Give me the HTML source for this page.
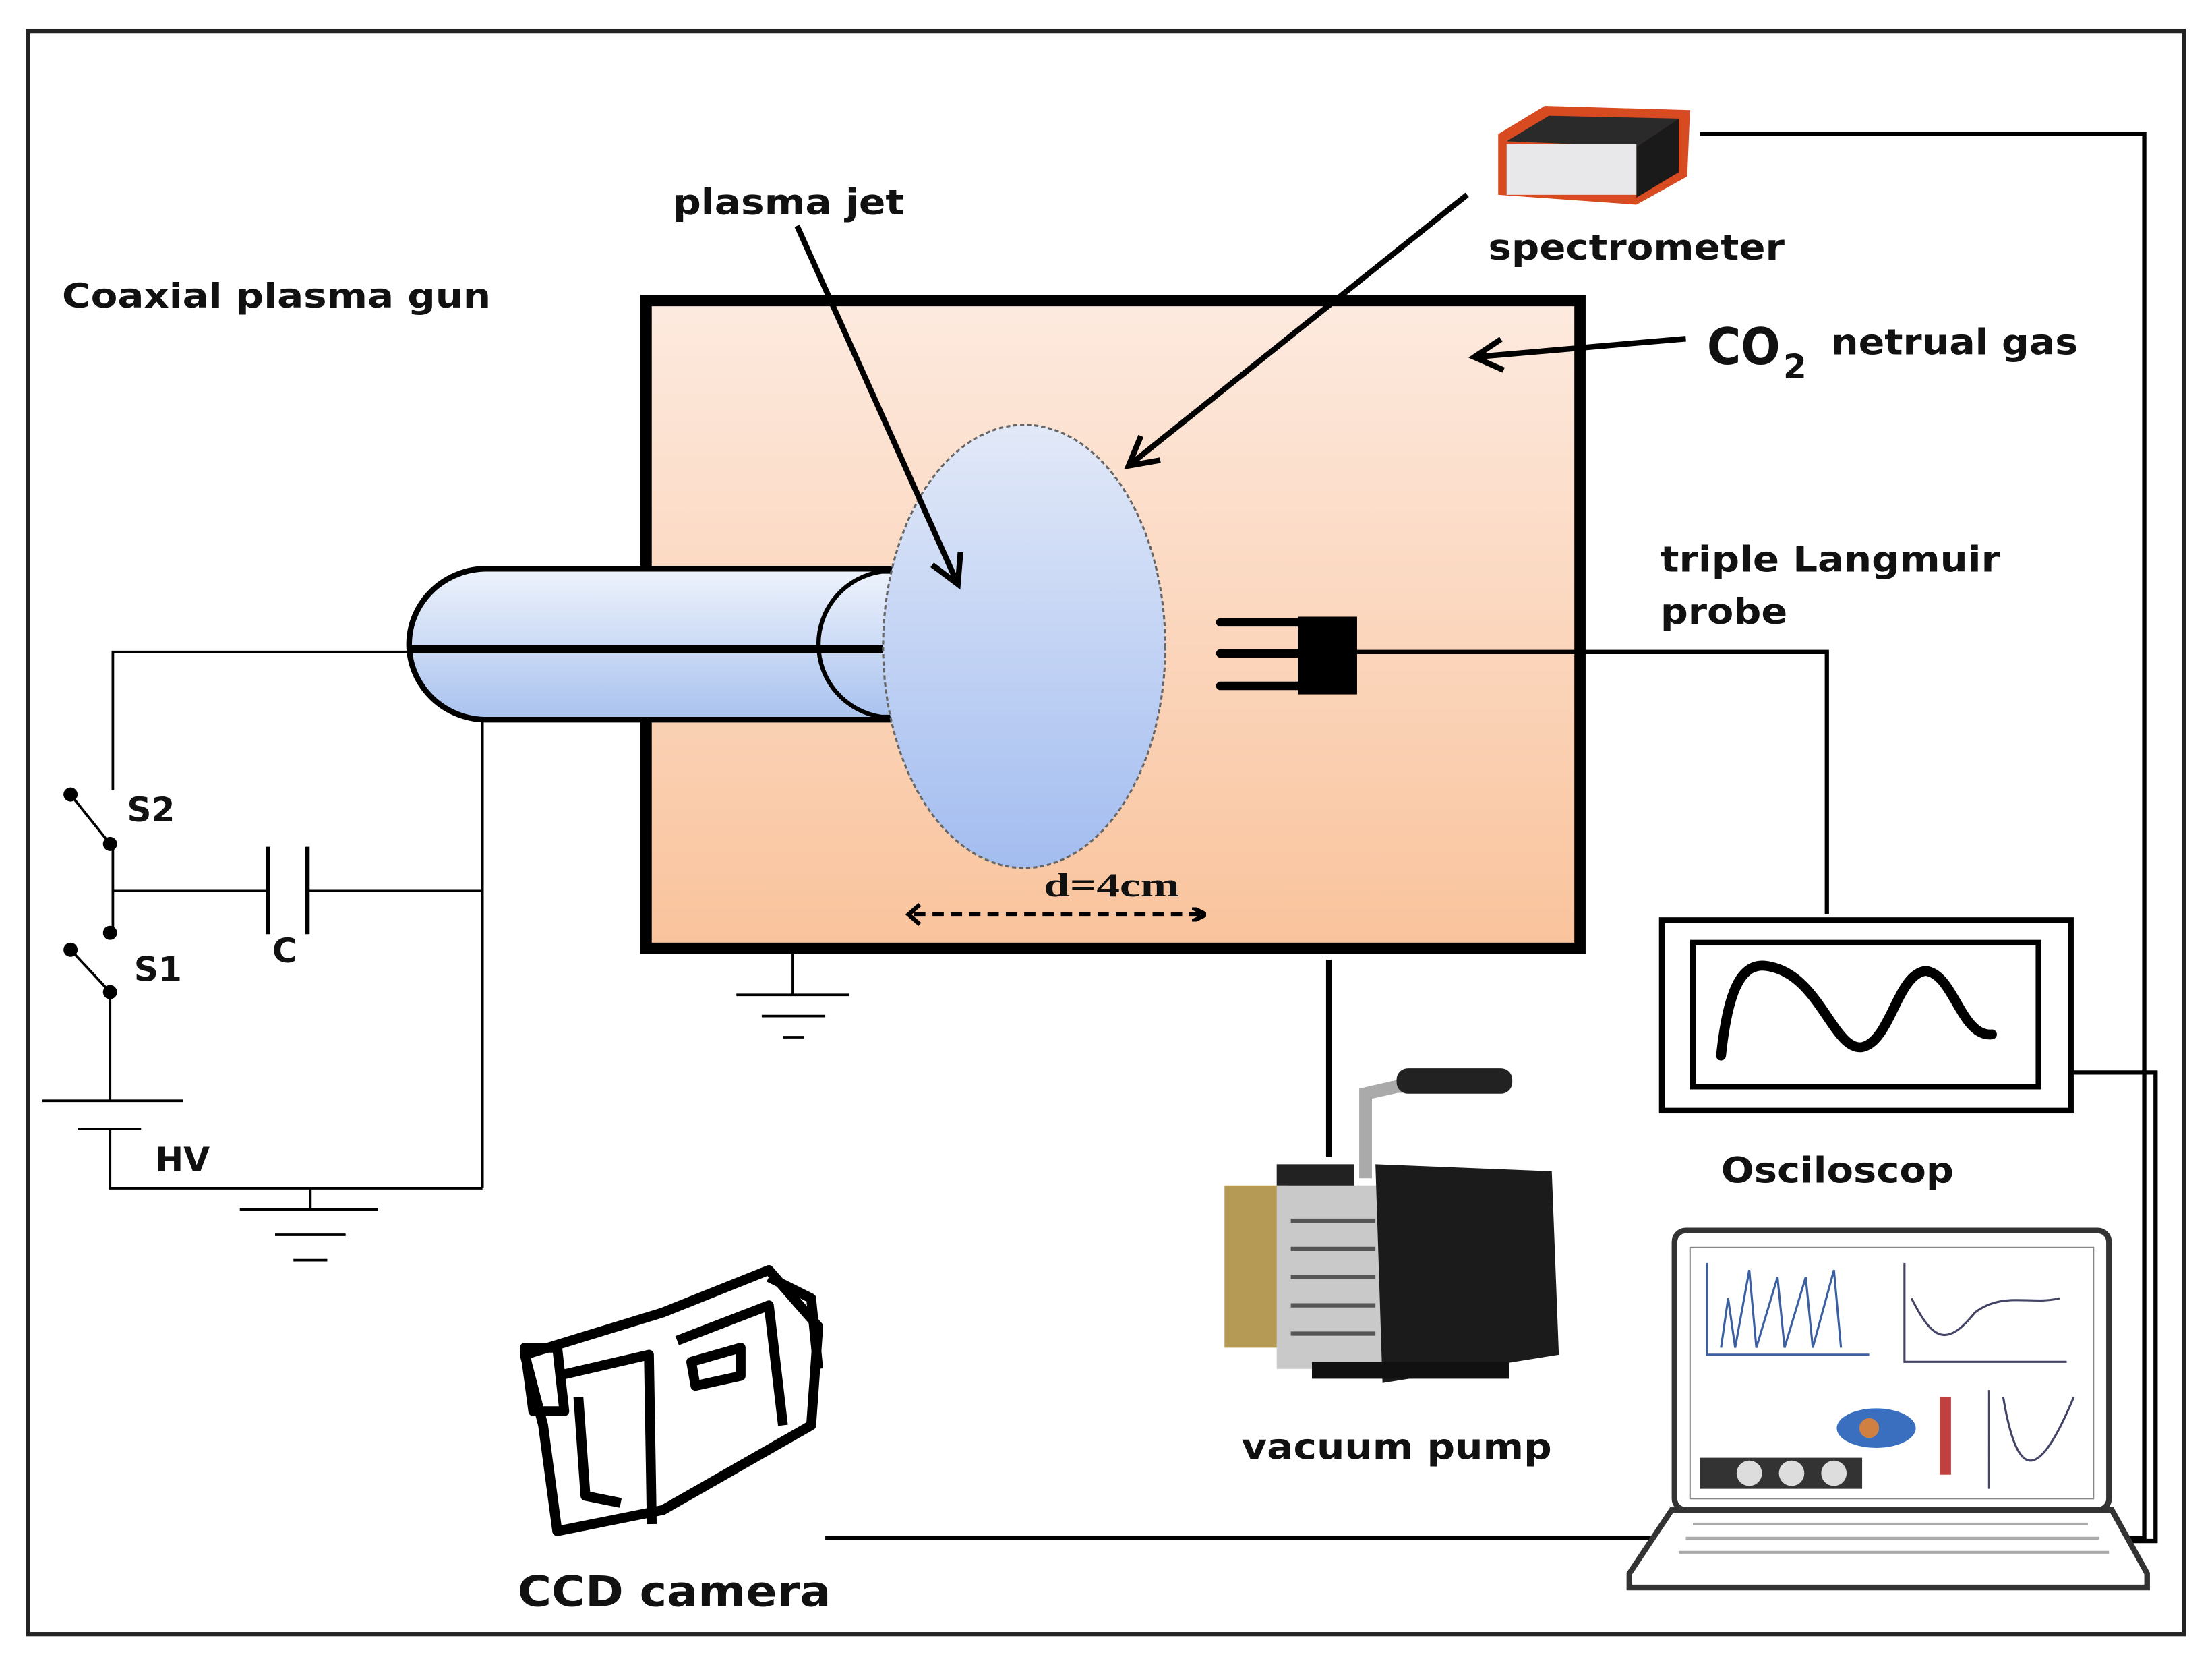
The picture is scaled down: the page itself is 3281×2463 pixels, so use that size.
<!DOCTYPE html>
<html><head><meta charset="utf-8"><style>
html,body{margin:0;padding:0;background:#fff;}
svg{display:block;}
text{font-family:"DejaVu Sans","Liberation Sans",sans-serif;font-weight:bold;fill:#111;}
</style></head><body>
<svg width="3281" height="2463" viewBox="0 0 1568 1177" xmlns="http://www.w3.org/2000/svg">
<defs>
<linearGradient id="ch" x1="0" y1="0" x2="0" y2="1"><stop offset="0" stop-color="#fdeadf"/><stop offset="1" stop-color="#f9c39c"/></linearGradient>
<linearGradient id="pl" x1="0" y1="0" x2="0" y2="1"><stop offset="0" stop-color="#e2e9f8"/><stop offset="1" stop-color="#a3bdf0"/></linearGradient>
<linearGradient id="gun" x1="0" y1="0" x2="0" y2="1"><stop offset="0" stop-color="#eef3fc"/><stop offset="1" stop-color="#a9c2ef"/></linearGradient>
<marker id="ah" markerWidth="10" markerHeight="10" refX="8" refY="5" orient="auto" markerUnits="userSpaceOnUse"><path d="M0,0 L10,5 L0,10" fill="none" stroke="#000" stroke-width="3"/></marker>
<marker id="ah2" markerWidth="26" markerHeight="26" refX="22" refY="13" orient="auto" markerUnits="userSpaceOnUse"><path d="M2,2 L22,13 L2,24" fill="none" stroke="#000" stroke-width="4"/></marker>
</defs>
<rect x="20" y="22" width="1528" height="1136" fill="none" stroke="#222" stroke-width="3"/>
<rect x="458" y="213" width="662" height="459" fill="url(#ch)" stroke="#000" stroke-width="8"/>
<path d="M345,403 L640,403 L640,510 L345,510 A55,53.5 0 0 1 345,403 Z" fill="url(#gun)" stroke="#000" stroke-width="4"/>
<path d="M640,405 L625,405 A52,52 0 0 0 625,508 L640,508" fill="url(#gun)" stroke="#000" stroke-width="3"/>
<line x1="290" y1="460" x2="640" y2="460" stroke="#000" stroke-width="6"/>
<ellipse cx="726" cy="458" rx="100" ry="157" fill="url(#pl)" stroke="#666" stroke-width="1.5" stroke-dasharray="3,2"/>
<rect x="920" y="437" width="42" height="55" fill="#000"/>
<path d="M865,441 H920 M865,463 H920 M865,486 H920" stroke="#000" stroke-width="6" stroke-linecap="round"/>
<polyline points="962,462 1295,462 1295,648" fill="none" stroke="#000" stroke-width="3"/>
<rect x="1178" y="652" width="290" height="135" fill="#fff" stroke="#000" stroke-width="4"/>
<rect x="1200" y="668" width="245" height="102" fill="#fff" stroke="#000" stroke-width="4"/>
<path d="M1220,748 C1225,700 1235,680 1255,685 C1290,692 1300,745 1320,742 C1340,738 1345,690 1365,688 C1385,690 1390,735 1412,733" fill="none" stroke="#000" stroke-width="7" stroke-linecap="round"/>
<polyline points="1205,95 1520,95 1520,1090 1500,1090" fill="none" stroke="#000" stroke-width="3"/>
<polyline points="1470,760 1528,760 1528,1092 1505,1092" fill="none" stroke="#000" stroke-width="3"/>
<line x1="585" y1="1090" x2="1190" y2="1090" stroke="#000" stroke-width="3"/>
<g stroke="#000" stroke-width="1.8" fill="none">
<polyline points="290,462 80,462 80,560"/>
<line x1="50" y1="563" x2="78" y2="598"/>
<line x1="80" y1="598" x2="80" y2="660"/>
<line x1="80" y1="631" x2="190" y2="631"/>
<line x1="218" y1="631" x2="342" y2="631"/>
<line x1="342" y1="510" x2="342" y2="842"/>
<line x1="50" y1="673" x2="78" y2="703"/>
<line x1="78" y1="703" x2="78" y2="780"/>
<line x1="30" y1="780" x2="130" y2="780"/>
<line x1="55" y1="800" x2="100" y2="800"/>
<polyline points="78,800 78,842 342,842"/>
<line x1="220" y1="842" x2="220" y2="857"/>
<line x1="170" y1="857" x2="268" y2="857"/>
<line x1="195" y1="875" x2="245" y2="875"/>
<line x1="208" y1="893" x2="232" y2="893"/>
<line x1="562" y1="676" x2="562" y2="705"/>
<line x1="522" y1="705" x2="602" y2="705"/>
<line x1="540" y1="720" x2="585" y2="720"/>
<line x1="555" y1="735" x2="570" y2="735"/>
</g>
<g stroke="#000" stroke-width="3"><line x1="190" y1="600" x2="190" y2="662"/><line x1="218" y1="600" x2="218" y2="662"/></g>
<g fill="#000"><circle cx="50" cy="563" r="5"/><circle cx="78" cy="598" r="5"/><circle cx="78" cy="661" r="5"/><circle cx="50" cy="673" r="5"/><circle cx="78" cy="703" r="5"/></g>
<line x1="942" y1="680" x2="942" y2="820" stroke="#000" stroke-width="4"/>
<line x1="648" y1="648" x2="853" y2="648" stroke="#000" stroke-width="3" stroke-dasharray="8,5" marker-end="url(#ah)"/>
<path d="M652,641 L644,648 L652,655" fill="none" stroke="#000" stroke-width="3"/>
<line x1="565" y1="160" x2="679" y2="414" stroke="#000" stroke-width="4" marker-end="url(#ah2)"/>
<line x1="1040" y1="138" x2="800" y2="330" stroke="#000" stroke-width="4" marker-end="url(#ah2)"/>
<line x1="1195" y1="240" x2="1045" y2="253" stroke="#000" stroke-width="4" marker-end="url(#ah2)"/>
<path d="M1062,95 L1095,75 L1198,78 L1196,125 L1160,145 L1062,138 Z" fill="#d84a20"/>
<path d="M1068,100 L1098,82 L1190,84 L1160,104 Z" fill="#2a2a2a"/>
<path d="M1160,104 L1190,84 L1190,122 L1160,140 Z" fill="#1a1a1a"/>
<rect x="1068" y="102" width="92" height="36" fill="#e8e8ea"/>
<!-- vacuum pump -->
<path d="M968,835 L968,775 L990,770 L1040,768" fill="none" stroke="#aaa" stroke-width="9"/>
<rect x="990" y="757" width="82" height="18" rx="8" fill="#222"/>
<rect x="905" y="825" width="55" height="30" fill="#222"/>
<rect x="868" y="840" width="45" height="115" fill="#b49a55"/>
<rect x="905" y="840" width="75" height="130" fill="#c9c9c9"/>
<g stroke="#555" stroke-width="3"><line x1="915" y1="865" x2="975" y2="865"/><line x1="915" y1="885" x2="975" y2="885"/><line x1="915" y1="905" x2="975" y2="905"/><line x1="915" y1="925" x2="975" y2="925"/><line x1="915" y1="945" x2="975" y2="945"/></g>
<path d="M975,825 L1100,830 L1105,960 L980,980 Z" fill="#1b1b1b"/>
<rect x="930" y="965" width="140" height="12" fill="#111"/>
<g fill="none" stroke="#000" stroke-width="7" stroke-linejoin="round">
<path d="M372,960 L470,930 L545,900 L580,940 L575,1010 L470,1070 L395,1085 L385,1010 Z"/>
<path d="M395,975 L460,960 L462,1080"/>
<path d="M480,950 L545,925 L555,1010"/>
<path d="M372,955 L395,955 L400,1000 L378,1000 Z"/>
<path d="M410,990 L415,1060 L440,1065"/>
<path d="M490,965 L525,955 L525,975 L493,982 Z"/>
<path d="M545,905 L575,920 L580,970"/>
</g>
<rect x="1187" y="872" width="308" height="198" rx="8" fill="#fff" stroke="#333" stroke-width="4"/>
<rect x="1198" y="884" width="286" height="178" fill="#fff" stroke="#888" stroke-width="1"/>
<path d="M1210,895 V960 H1325 M1220,955 L1225,920 L1230,955 L1240,900 L1245,955 L1260,905 L1265,955 L1280,905 L1285,955 L1300,900 L1305,955" fill="none" stroke="#3b5fa0" stroke-width="1.5"/>
<path d="M1350,895 V965 H1465 M1355,920 C1370,950 1380,955 1400,930 C1420,915 1440,925 1460,920" fill="none" stroke="#446" stroke-width="1.5"/>
<ellipse cx="1330" cy="1012" rx="28" ry="14" fill="#3a6fc0"/><circle cx="1325" cy="1012" r="7" fill="#d08040"/>
<rect x="1375" y="990" width="8" height="55" fill="#c04040"/>
<rect x="1205" y="1033" width="115" height="22" fill="#333"/><circle cx="1240" cy="1044" r="9" fill="#ddd"/><circle cx="1270" cy="1044" r="9" fill="#ddd"/><circle cx="1300" cy="1044" r="9" fill="#ddd"/>
<path d="M1410,985 V1055 M1420,990 C1430,1050 1445,1050 1470,990" fill="none" stroke="#446" stroke-width="1.5"/>
<path d="M1185,1070 L1497,1070 L1522,1115 L1522,1125 L1155,1125 L1155,1115 Z" fill="#fff" stroke="#333" stroke-width="4"/>
<path d="M1200,1080 H1480 M1195,1090 H1488 M1190,1100 H1495" stroke="#aaa" stroke-width="2"/>
<g lengthAdjust="spacingAndGlyphs">
<text x="477" y="152" font-size="25" textLength="164" lengthAdjust="spacingAndGlyphs">plasma jet</text>
<text x="44" y="218" font-size="24" textLength="304" lengthAdjust="spacingAndGlyphs">Coaxial plasma gun</text>
<text x="1055" y="184" font-size="25" textLength="210" lengthAdjust="spacingAndGlyphs">spectrometer</text>
<text x="1210" y="258" font-size="36" textLength="52" lengthAdjust="spacingAndGlyphs">CO</text>
<text x="1264" y="268" font-size="24">2</text>
<text x="1298" y="251" font-size="25" textLength="175" lengthAdjust="spacingAndGlyphs">netrual gas</text>
<text x="1177" y="405" font-size="25" textLength="241" lengthAdjust="spacingAndGlyphs">triple Langmuir</text>
<text x="1177" y="442" font-size="25" textLength="90" lengthAdjust="spacingAndGlyphs">probe</text>
<text x="1220" y="838" font-size="25" textLength="165" lengthAdjust="spacingAndGlyphs">Osciloscop</text>
<text x="880" y="1034" font-size="25" textLength="220" lengthAdjust="spacingAndGlyphs">vacuum pump</text>
<text x="367" y="1138" font-size="30" textLength="222" lengthAdjust="spacingAndGlyphs">CCD camera</text>
<text x="740" y="635" font-size="24" style="font-family:'Liberation Serif',serif" textLength="96" lengthAdjust="spacingAndGlyphs">d=4cm</text>
<text x="90" y="582" font-size="24">S2</text>
<text x="95" y="695" font-size="24">S1</text>
<text x="193" y="682" font-size="24">C</text>
<text x="110" y="830" font-size="24">HV</text>
</g>
</svg>
</body></html>
